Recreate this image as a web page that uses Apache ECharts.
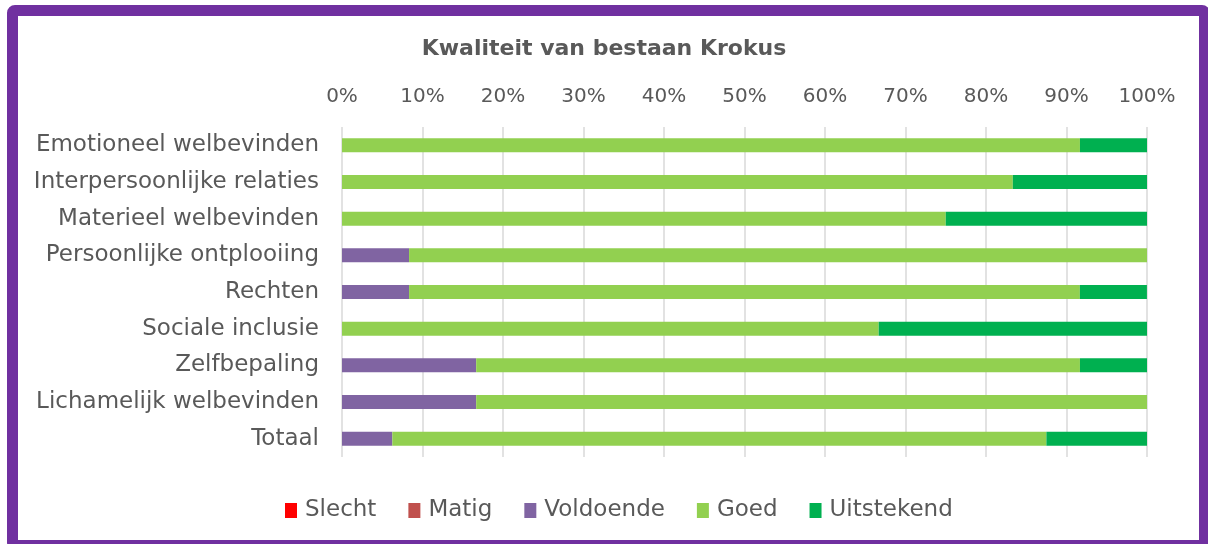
<!DOCTYPE html>
<html>
<head>
<meta charset="utf-8">
<script src="https://cdn.jsdelivr.net/npm/echarts@6/dist/echarts.min.js"></script>
<style>
html, body { margin: 0; padding: 0; width: 1208px; height: 544px; overflow: hidden; background: #fff; }
#frame {
  position: absolute; left: 7px; top: 5px;
  width: 1181px; height: 524px;
  border: 11px solid #7030A0; border-radius: 8px;
}
#main { position: absolute; left: 0; top: 0; width: 1208px; height: 544px; }
</style>
</head>
<body>
<div id="frame"></div>
<div id="main"></div>
<script>
// categorieen van boven naar beneden
var categories = ['Emotioneel welbevinden', 'Interpersoonlijke relaties', 'Materieel welbevinden',
  'Persoonlijke ontplooiing', 'Rechten', 'Sociale inclusie', 'Zelfbepaling',
  'Lichamelijk welbevinden', 'Totaal'];
// percentages per score
var slecht     = [0, 0, 0, 0, 0, 0, 0, 0, 0];
var matig      = [0, 0, 0, 0, 0, 0, 0, 0, 0];
var voldoende  = [0, 0, 0, 8.33, 8.33, 0, 16.67, 16.67, 6.25];
var goed       = [91.67, 83.33, 75, 91.67, 83.33, 66.67, 75, 83.33, 81.25];
var uitstekend = [8.33, 16.67, 25, 0, 8.33, 33.33, 8.33, 0, 12.5];

var names = ['Slecht', 'Matig', 'Voldoende', 'Goed', 'Uitstekend'];
var colors = ['#FF0000', '#C0504D', '#8064A2', '#92D050', '#00B050'];
var values = [slecht, matig, voldoende, goed, uitstekend];

var font = 'Century Gothic, "DejaVu Sans", sans-serif';
var chart = echarts.init(document.getElementById('main'));

var series = [];
for (var i = 0; i < names.length; i++) {
  series.push({
    name: names[i],
    type: 'bar',
    stack: 'totaal',
    barWidth: 14,
    itemStyle: { color: colors[i] },
    data: values[i]
  });
}

chart.setOption({
  animation: false,
  title: {
    text: 'Kwaliteit van bestaan Krokus',
    left: 'center',
    top: 33,
    textStyle: { fontFamily: font, fontSize: 22, fontWeight: 'bold', color: '#595959' }
  },
  color: colors,
  legend: {
    data: names,
    top: 494,
    left: 280,
    itemWidth: 12,
    itemHeight: 15,
    itemGap: 32,
    icon: 'rect',
    textStyle: { fontFamily: font, fontSize: 23, color: '#595959', padding: [0, 0, 0, 3] }
  },
  grid: { left: 342, right: 61, top: 127, height: 330 },
  xAxis: {
    type: 'value',
    position: 'top',
    min: 0,
    max: 100,
    interval: 10,
    axisLine: { show: false },
    axisTick: { show: false },
    axisLabel: { formatter: '{value}%', fontFamily: font, fontSize: 20, color: '#595959', margin: 20 },
    splitLine: { lineStyle: { color: '#D9D9D9', width: 1.5 } }
  },
  yAxis: {
    type: 'category',
    inverse: true,
    data: categories,
    axisLine: { show: false },
    axisTick: { show: false },
    axisLabel: { fontFamily: font, fontSize: 23, color: '#595959', margin: 23 }
  },
  series: series
});
</script>
</body>
</html>
